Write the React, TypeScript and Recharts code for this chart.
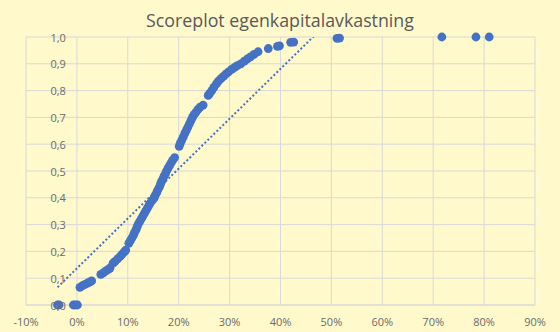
import React from "react"
import { ScatterChart, Scatter, XAxis, YAxis, CartesianGrid } from "recharts"

// avkastning (x) and score (y)
const avkastning = [
  -0.038, -0.035, -0.007, -0.003, 0.001,
  0.006, 0.011, 0.016, 0.021, 0.026, 0.029,
  0.047, 0.052, 0.057, 0.062, 0.065,
  0.071, 0.075, 0.08, 0.085, 0.089, 0.093, 0.096,
  0.102, 0.105, 0.108, 0.111, 0.113, 0.116, 0.118, 0.12, 0.123, 0.126, 0.129,
  0.132, 0.135, 0.138, 0.141, 0.144, 0.148, 0.152, 0.154, 0.157, 0.159, 0.162,
  0.164, 0.166, 0.169, 0.171, 0.174, 0.176, 0.179, 0.182, 0.185, 0.188, 0.192,
  0.201, 0.203, 0.206, 0.209, 0.212, 0.215, 0.218, 0.221, 0.224, 0.227, 0.23,
  0.234, 0.238, 0.242, 0.248,
  0.258, 0.261, 0.265, 0.269, 0.274, 0.278, 0.283, 0.288, 0.293, 0.298, 0.304,
  0.31, 0.315, 0.322, 0.329, 0.335, 0.341, 0.348, 0.356, 0.376, 0.394, 0.398,
  0.42, 0.426, 0.511, 0.516, 0.717, 0.784, 0.81,
]

const score = [
  0, 0, 0, 0, 0,
  0.066, 0.072, 0.077, 0.082, 0.086, 0.09,
  0.114, 0.12, 0.127, 0.133, 0.138,
  0.156, 0.163, 0.172, 0.181, 0.19, 0.198, 0.205,
  0.23, 0.24, 0.25, 0.26, 0.27, 0.28, 0.29, 0.3, 0.31, 0.32, 0.33,
  0.34, 0.35, 0.36, 0.37, 0.38, 0.39, 0.4, 0.41, 0.42, 0.43, 0.44,
  0.45, 0.46, 0.47, 0.48, 0.49, 0.5, 0.51, 0.52, 0.53, 0.54, 0.55,
  0.592, 0.603, 0.615, 0.627, 0.64, 0.652, 0.664, 0.676, 0.688, 0.7, 0.71,
  0.72, 0.73, 0.738, 0.746,
  0.782, 0.79, 0.8, 0.812, 0.825, 0.835, 0.845, 0.853, 0.862, 0.87, 0.879,
  0.887, 0.893, 0.9, 0.91, 0.918, 0.926, 0.935, 0.945, 0.957, 0.965, 0.967,
  0.98, 0.981, 0.995, 0.996, 1.0, 1.0, 1.0,
]

// linear trendline, ends at the min and max of the data
const trendX = [-0.038, 0.81]
const trendY = [0.066, 1.644]

const xTicks = [-0.1, 0, 0.1, 0.2, 0.3, 0.4, 0.5, 0.6, 0.7, 0.8, 0.9]
const yTicks = [0, 0.1, 0.2, 0.3, 0.4, 0.5, 0.6, 0.7, 0.8, 0.9, 1]

const W = 560
const H = 332
const Y_W = 20
const M = { top: 37, right: 25, bottom: 0, left: 26 - Y_W }
const BLUE = "#4472C4"
const GRID = "#d9d9d9"
const TEXT = "#6b6b6b"

const points = avkastning.map((x, i) => ({ x, y: score[i] }))
const trend = trendX.map((x, i) => ({ x, y: trendY[i] }))

// y labels sit next to the vertical axis, which crosses at 0 %
const plotLeft = M.left + Y_W
const zeroX = plotLeft + ((W - plotLeft - M.right) * 0.1) / 1.0

const YTick = (props: any) => (
  <text
    x={zeroX - 11}
    y={props.y}
    textAnchor="end"
    dominantBaseline="central"
    fontSize={11}
    fill={TEXT}
    fontFamily="Open Sans"
  >
    {Number(props.payload.value).toFixed(1).replace(".", ",")}
  </text>
)

const Dot = (props: any) => <circle cx={props.cx} cy={props.cy} r={4.4} fill={BLUE} />

export default function App() {
  return (
    <div
      style={{
        position: "absolute",
        left: 0,
        top: 0,
        width: W,
        height: H,
        background: "#FFF9CC",
        fontFamily: "Open Sans",
      }}
    >
      <div
        style={{
          position: "absolute",
          top: 10,
          width: W,
          textAlign: "center",
          fontSize: 17.8,
          lineHeight: "21px",
          color: "#595959",
        }}
      >
        Scoreplot egenkapitalavkastning
      </div>
      <ScatterChart width={W} height={H} margin={M} style={{ position: "absolute", left: 0, top: 0 }}>
        <CartesianGrid stroke={GRID} strokeWidth={1} />
        <XAxis
          type="number"
          dataKey="x"
          domain={[-0.1, 0.9]}
          ticks={xTicks}
          interval={0}
          tickFormatter={(v: number) => `${Math.round(v * 100)}%`}
          axisLine={{ stroke: GRID }}
          tickLine={false}
          tickSize={6}
          tickMargin={7}
          height={27}
          tick={{ fontSize: 11, fill: TEXT, fontFamily: "Open Sans" }}
        />
        <YAxis
          type="number"
          dataKey="y"
          domain={[0, 1]}
          ticks={yTicks}
          interval={0}
          width={Y_W}
          axisLine={false}
          tickLine={false}
          tick={YTick}
        />
        <YAxis yAxisId="trend" type="number" dataKey="y" domain={[0, 1]} allowDataOverflow hide />
        <Scatter
          data={trend}
          yAxisId="trend"
          isAnimationActive={false}
          line={{ stroke: BLUE, strokeWidth: 2, strokeDasharray: "2 2.2" }}
          lineType="joint"
          shape={() => <g />}
        />
        <Scatter data={points} isAnimationActive={false} shape={<Dot />} />
      </ScatterChart>
    </div>
  )
}
